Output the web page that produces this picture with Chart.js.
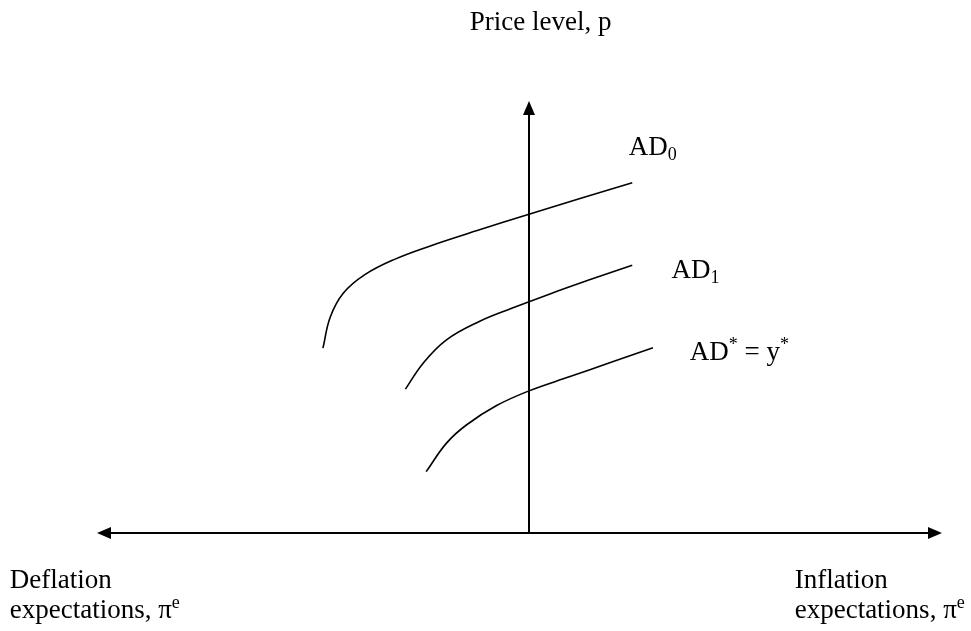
<!DOCTYPE html>
<html>
<head>
<meta charset="utf-8">
<script src="https://cdn.jsdelivr.net/npm/chart.js@4.4.0/dist/chart.umd.min.js"></script>
<style>
  html, body { margin: 0; padding: 0; background: #fff; }
  #wrap { width: 971px; height: 631px; position: relative; }
</style>
</head>
<body>
<div id="wrap"><canvas id="myChart"></canvas></div>
<script>
// curve data (x = expectations, y = price level)
var ad0X = [-4.77, -4.60, -4.30, -3.80, -3.10, -2.30, -1.20, 0, 1.20, 2.39];
var ad0Y = [4.28, 5.00, 5.55, 5.98, 6.34, 6.64, 7.00, 7.38, 7.75, 8.11];
var ad1X = [-2.86, -2.45, -1.91, -1.14, -0.40, 0.50, 1.40, 2.39];
var ad1Y = [3.33, 3.93, 4.47, 4.90, 5.20, 5.54, 5.86, 6.20];
var adStarX = [-2.38, -1.91, -1.45, -0.75, 0, 0.95, 1.90, 2.87];
var adStarY = [1.42, 2.08, 2.50, 2.95, 3.29, 3.62, 3.95, 4.29];

// axis extents
var xAxisEnds = [-10, 9.56];
var yAxisEnds = [0, 10];

function pts(xs, ys) {
    return xs.map(function (x, i) { return { x: x, y: ys[i] }; });
}

var FONT = '"Liberation Serif", "Times New Roman", serif';
var SIZE = 27;

// text labels: [parts], data position
var labels = [
    { parts: [["Price level, p", "n"]], x: 0.27, y: 11.64, align: "center" },
    { parts: [["AD", "n"], ["0", "sub"]], x: 2.31, y: 8.75 },
    { parts: [["AD", "n"], ["1", "sub"]], x: 3.30, y: 5.90 },
    { parts: [["AD", "n"], ["*", "sup"], [" = y", "n"], ["*", "sup"]], x: 3.72, y: 4.00 },
    { parts: [["Deflation", "n"]], x: -12.02, y: -1.27 },
    { parts: [["expectations, \u03c0", "n"], ["e", "sup"]], x: -12.02, y: -1.97 },
    { parts: [["Inflation", "n"]], x: 6.15, y: -1.27 },
    { parts: [["expectations, \u03c0", "n"], ["e", "sup"]], x: 6.15, y: -1.97 }
];

function partFont(kind) {
    return (kind === "n" ? SIZE : Math.round(SIZE * 0.65)) + "px " + FONT;
}

function drawRich(ctx, parts, x, y, align) {
    var w = 0;
    parts.forEach(function (p) { ctx.font = partFont(p[1]); w += ctx.measureText(p[0]).width; });
    var cx = align === "center" ? x - w / 2 : x;
    parts.forEach(function (p) {
        ctx.font = partFont(p[1]);
        var dy = p[1] === "sub" ? 5 : (p[1] === "sup" ? -10 : 0);
        ctx.fillText(p[0], cx, y + dy);
        cx += ctx.measureText(p[0]).width;
    });
}

var decor = {
    id: "decor",
    afterDatasetsDraw: function (chart) {
        var ctx = chart.ctx;
        var xs = chart.scales.x, ys = chart.scales.y;
        var x0 = xs.getPixelForValue(0), y0 = ys.getPixelForValue(0);
        var L = 14, H = 6;
        ctx.save();
        ctx.fillStyle = "#000";
        // arrow heads
        var lx = xs.getPixelForValue(xAxisEnds[0]);
        var rx = xs.getPixelForValue(xAxisEnds[1]);
        var ty = ys.getPixelForValue(yAxisEnds[1]);
        ctx.beginPath();
        ctx.moveTo(lx, y0); ctx.lineTo(lx + L, y0 - H); ctx.lineTo(lx + L, y0 + H); ctx.closePath();
        ctx.fill();
        ctx.beginPath();
        ctx.moveTo(rx, y0); ctx.lineTo(rx - L, y0 - H); ctx.lineTo(rx - L, y0 + H); ctx.closePath();
        ctx.fill();
        ctx.beginPath();
        ctx.moveTo(x0, ty); ctx.lineTo(x0 - H, ty + L); ctx.lineTo(x0 + H, ty + L); ctx.closePath();
        ctx.fill();
        // labels
        ctx.textBaseline = "alphabetic";
        ctx.textAlign = "left";
        labels.forEach(function (lb) {
            drawRich(ctx, lb.parts, xs.getPixelForValue(lb.x), ys.getPixelForValue(lb.y), lb.align);
        });
        ctx.restore();
    }
};

function curve(xs, ys) {
    return {
        data: pts(xs, ys),
        showLine: true,
        borderColor: "#000",
        borderWidth: 1.6,
        pointRadius: 0,
        tension: 0.4,
        clip: false,
        fill: false
    };
}

function axisLine(data) {
    return {
        data: data,
        showLine: true,
        borderColor: "#000",
        borderWidth: 2,
        pointRadius: 0,
        tension: 0,
        clip: false,
        fill: false
    };
}

var ctx = document.getElementById("myChart").getContext("2d");
var myChart = new Chart(ctx, {
    type: "scatter",
    data: {
        datasets: [
            axisLine([{ x: xAxisEnds[0] + 0.3, y: 0 }, { x: xAxisEnds[1] - 0.3, y: 0 }]),
            axisLine([{ x: 0, y: yAxisEnds[0] }, { x: 0, y: yAxisEnds[1] - 0.3 }]),
            curve(ad0X, ad0Y),
            curve(ad1X, ad1Y),
            curve(adStarX, adStarY)
        ]
    },
    options: {
        responsive: true,
        maintainAspectRatio: false,
        animation: false,
        layout: { padding: { left: 97, right: 10, top: 101, bottom: 98 } },
        plugins: { legend: { display: false }, tooltip: { enabled: false } },
        scales: {
            x: { type: "linear", min: -10, max: 10, display: false },
            y: { type: "linear", min: 0, max: 10, display: false }
        }
    },
    plugins: [decor]
});
</script>
</body>
</html>
